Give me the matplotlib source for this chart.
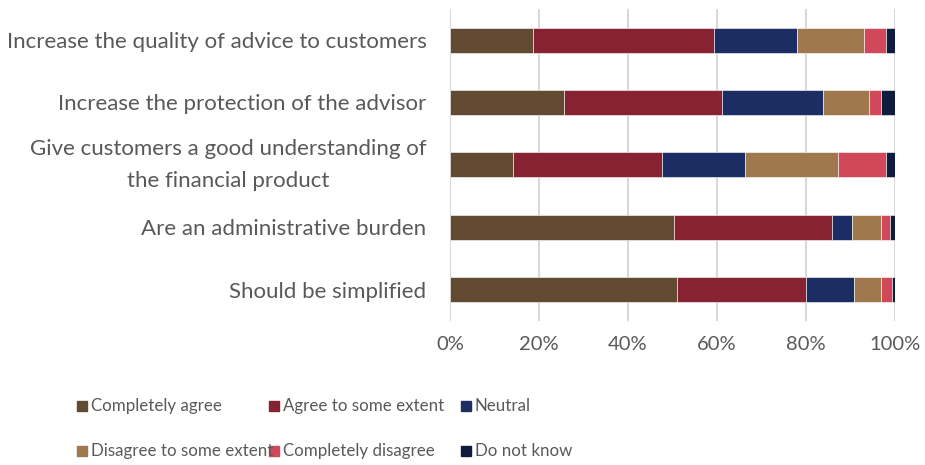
import matplotlib.pyplot as plt
from matplotlib.patches import Rectangle
from matplotlib.ticker import PercentFormatter
import numpy as np

plt.rcParams['font.family'] = ['Lato', 'DejaVu Sans']

questions = [
    "Increase the quality of advice to customers",
    "Increase the protection of the advisor",
    "Give customers a good understanding of\nthe financial product",
    "Are an administrative burden",
    "Should be simplified",
]

responses = ["Completely agree", "Agree to some extent", "Neutral",
             "Disagree to some extent", "Completely disagree", "Do not know"]

# share of answers (%) per question, one list per response
completely_agree = [18.7, 25.7, 14.2, 50.3, 51.0]
agree_some = [40.6, 35.5, 33.4, 35.5, 29.0]
neutral = [18.8, 22.6, 18.8, 4.5, 10.9]
disagree_some = [14.9, 10.4, 20.7, 6.6, 6.0]
completely_disagree = [5.1, 2.7, 11.0, 1.9, 2.4]
do_not_know = [1.9, 3.1, 1.9, 1.2, 0.7]

series = [completely_agree, agree_some, neutral, disagree_some,
          completely_disagree, do_not_know]
colors = ["#614A2F", "#862231", "#1B2D63", "#A0784E", "#D2485B", "#0F1C3E"]

text_col = "#595959"

fig = plt.figure(figsize=(9.25, 4.65), dpi=100)
ax = fig.add_axes([0.4865, 0.310, 0.481, 0.671])

y = np.arange(len(questions))
left = np.zeros(len(questions))
for vals, col in zip(series, colors):
    ax.barh(y, vals, left=left, height=0.4, color=col,
            edgecolor="white", linewidth=0.4, zorder=3)
    left += np.array(vals)

ax.set_xlim(0, 100)
ax.set_ylim(len(questions) - 0.5, -0.5)
ax.set_xticks(np.arange(0, 101, 20))
ax.xaxis.set_major_formatter(PercentFormatter(decimals=0))
ax.set_yticks(y)
ax.tick_params(axis="y", length=0, pad=17, labelsize=16, labelcolor=text_col)
ax.tick_params(axis="x", length=0, pad=11, labelsize=14.5, labelcolor=text_col)
ax.set_yticklabels(questions, multialignment="center", linespacing=1.73)
# the two-line label is centred on its whole box, not on a baseline
for lbl in ax.get_yticklabels():
    if "\n" in lbl.get_text():
        lbl.set_verticalalignment("center")
ax.grid(axis="x", color="#d9d9d9", linewidth=1.5, zorder=0)
for s in ax.spines.values():
    s.set_visible(False)

# legend laid out in two rows of three
leg_x = [77, 269, 461]
leg_y = [406, 451]
W, H = 925, 465
for i, (lab, col) in enumerate(zip(responses, colors)):
    cx = leg_x[i % 3]
    cy = leg_y[i // 3]
    fig.patches.append(Rectangle(((cx) / W, 1 - (cy + 5) / H), 10 / W, 10 / H,
                                 transform=fig.transFigure, color=col))
    fig.text((cx + 14) / W, 1 - cy / H, lab, fontsize=12.2, color=text_col,
             va="center", ha="left")

fig.savefig("out.png", dpi=100)
